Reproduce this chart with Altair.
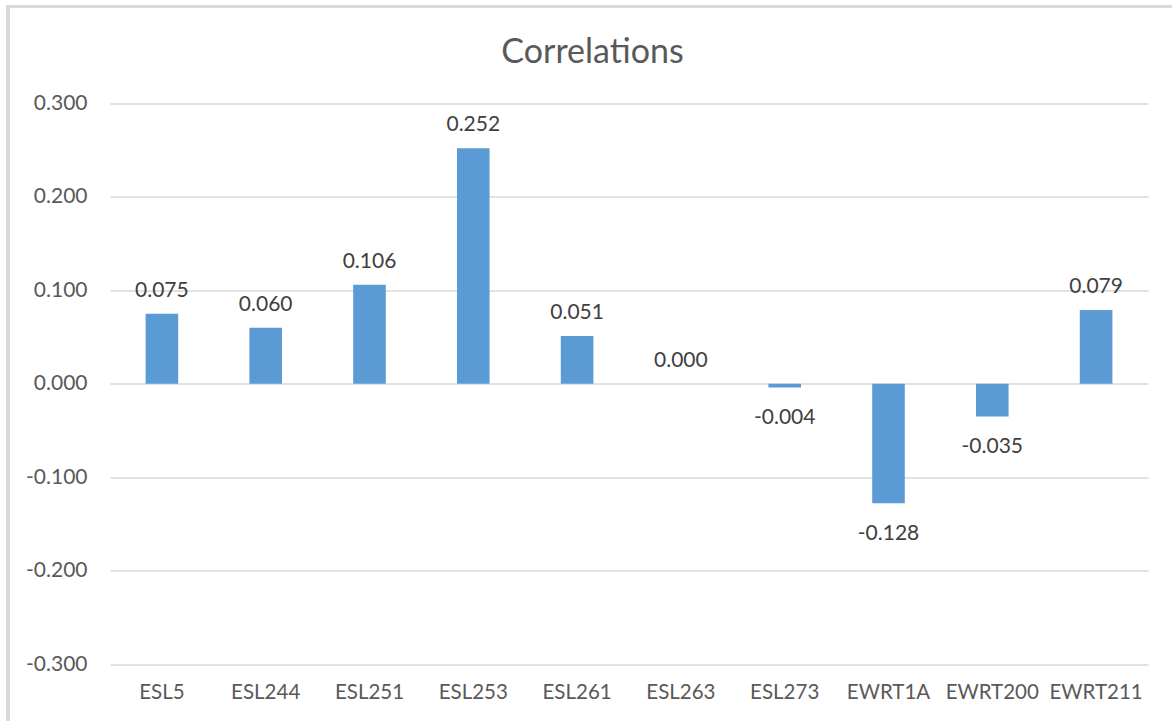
import altair as alt
import pandas as pd

# Correlation of each course with the outcome measure
courses = ["ESL5", "ESL244", "ESL251", "ESL253", "ESL261",
           "ESL263", "ESL273", "EWRT1A", "EWRT200", "EWRT211"]
correlations = [0.075, 0.060, 0.106, 0.252, 0.051,
                0.000, -0.004, -0.128, -0.035, 0.079]
y_ticks = [-0.3, -0.2, -0.1, 0.0, 0.1, 0.2, 0.3]

df = pd.DataFrame({"course": courses, "r": correlations})

FONT = "Lato"
AXIS_GREY = "#595959"
LABEL_GREY = "#404040"
GRID = "#D9D9D9"
BAR = "#5B9BD5"

# d3 formats negatives with a unicode minus; use a plain hyphen instead
HYPHEN = "replace(format({v}, '.3f'), '\u2212', '-')"

x_enc = alt.X(
    "course:N",
    sort=courses,
    scale=alt.Scale(paddingInner=0.686, paddingOuter=0.343),
    axis=alt.Axis(
        title=None, orient="bottom", labelAngle=0, domain=False, ticks=False,
        labelFont=FONT, labelFontSize=20.5, labelColor=AXIS_GREY,
        labelPadding=18, grid=False,
    ),
)
y_enc = alt.Y(
    "r:Q",
    scale=alt.Scale(domain=[-0.3, 0.3], nice=False, zero=False),
    axis=alt.Axis(
        title=None, values=y_ticks, domain=False, ticks=False,
        labelExpr=HYPHEN.format(v="datum.value"),
        labelFont=FONT, labelFontSize=21, labelColor=AXIS_GREY,
        labelPadding=23, gridColor=GRID, gridWidth=1.3,
    ),
)

bars = alt.Chart(df).mark_bar(color=BAR).encode(
    x=x_enc, y=y_enc, y2=alt.datum(0)
)

labelled = alt.Chart(df).transform_calculate(label=HYPHEN.format(v="datum.r"))

pos_labels = labelled.transform_filter("datum.r >= 0").mark_text(
    font=FONT, fontSize=21, color=LABEL_GREY, baseline="alphabetic", dy=-17
).encode(x=alt.X("course:N", sort=courses), y="r:Q", text="label:N")

neg_labels = labelled.transform_filter("datum.r < 0").mark_text(
    font=FONT, fontSize=21, color=LABEL_GREY, baseline="alphabetic", dy=37
).encode(x=alt.X("course:N", sort=courses), y="r:Q", text="label:N")

# light outer frame around the chart area
frame = alt.Chart(df).mark_rect(
    fill=None, stroke=GRID, strokeWidth=2.5
).encode(
    x=alt.value(-102), x2=alt.value(1100),
    y=alt.value(-97), y2=alt.value(700),
)

chart = alt.layer(frame, bars, pos_labels, neg_labels).properties(
    width=1038,
    height=560.5,
    title=alt.TitleParams(
        "Correlations", font=FONT, fontSize=34, fontWeight="normal",
        color=AXIS_GREY, anchor="middle", dx=-36.5, offset=-92,
        baseline="alphabetic",
    ),
    autosize=alt.AutoSizeParams(type="none"),
    padding={"left": 110, "top": 103.5, "right": 24, "bottom": 57},
).configure(background="white").configure_view(stroke="transparent", strokeWidth=0)

chart.save("out.html", embed_options={"renderer": "svg", "actions": False})
